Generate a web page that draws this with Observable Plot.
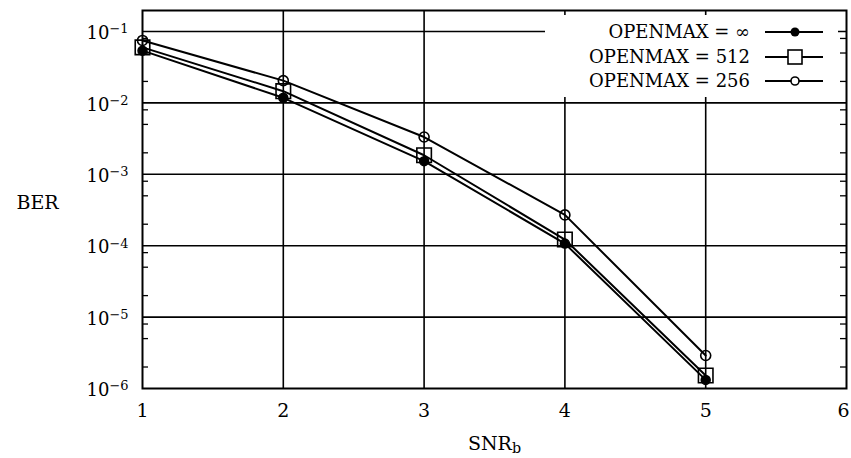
<!DOCTYPE html>
<html><head><meta charset="utf-8">
<script src="https://cdn.jsdelivr.net/npm/d3@7"></script>
<script src="https://cdn.jsdelivr.net/npm/@observablehq/plot@0.6"></script>
<style>
body{margin:0;background:#fff}
#wrap{position:relative;width:851px;height:458px}
svg text{font-family:"DejaVu Serif",serif}
</style>
</head><body><div id="wrap"></div>
<script>
// ---- data ----
const snr = [1, 2, 3, 4, 5];
const berInf = [0.054, 0.0118, 0.00153, 0.000107, 1.32e-6];
const ber512 = [0.060, 0.0146, 0.00185, 0.000122, 1.52e-6];
const ber256 = [0.075, 0.0205, 0.00333, 0.00027, 2.9e-6];
const seriesNames = ["OPENMAX = ∞", "OPENMAX = 512", "OPENMAX = 256"];
const xTicks = [1, 2, 3, 4, 5, 6];
const yMajor = [1e-6, 1e-5, 1e-4, 1e-3, 1e-2, 1e-1];
const yMinorMantissas = [2, 5, 8];
const xLabel = "SNR", xLabelSub = "b", yLabel = "BER";

// ---- derived ----
const yTop = 0.197;
const yMinor = [];
for (const m of yMajor) for (const k of yMinorMantissas) { const v = m * k; if (v < yTop) yMinor.push(v); }
const rows = arr => snr.map((x, i) => ({x, y: arr[i]}));

const plot = Plot.plot({
  width: 851, height: 458,
  marginLeft: 142, marginRight: 5, marginTop: 10, marginBottom: 70,
  style: {fontFamily: "DejaVu Serif", fontSize: "18px", color: "black", background: "white"},
  x: {domain: [1, 6]},
  y: {type: "log", domain: [1e-6, yTop]},
  marks: [
    Plot.ruleY(yMajor.slice(1), {stroke: "black", strokeWidth: 1.6}),
    Plot.ruleX(xTicks.slice(1, -1), {stroke: "black", strokeWidth: 1.6}),
    Plot.tickY(yMinor, {stroke: "black", strokeWidth: 1.3, insetRight: 698}),
    Plot.tickY(yMinor, {stroke: "black", strokeWidth: 1.3, insetLeft: 698}),
    Plot.axisX({ticks: xTicks, tickSize: 0, tickPadding: 15, tickFormat: d => String(d), label: null, fontSize: 19}),
    Plot.axisY({ticks: yMajor, tickSize: 0, tickPadding: 14, tickFormat: d => "10|" + Math.round(Math.log10(d)), label: null, fontSize: 18, dy: 2}),
    Plot.line(rows(berInf), {x: "x", y: "y", stroke: "black", strokeWidth: 2}),
    Plot.line(rows(ber512), {x: "x", y: "y", stroke: "black", strokeWidth: 2}),
    Plot.line(rows(ber256), {x: "x", y: "y", stroke: "black", strokeWidth: 2}),
    Plot.dot(rows(berInf), {x: "x", y: "y", r: 4.5, fill: "black", stroke: "black", symbol: "circle"}),
    Plot.dot(rows(ber512), {x: "x", y: "y", r: 8.2, fill: "none", stroke: "black", strokeWidth: 1.6, symbol: "square"}),
    Plot.dot(rows(ber256), {x: "x", y: "y", r: 5, fill: "none", stroke: "black", strokeWidth: 1.6, symbol: "circle"}),
    Plot.frame({stroke: "black", strokeWidth: 2}),
    Plot.text([yLabel], {frameAnchor: "left", dx: -105, dy: 3, textAnchor: "middle", fontSize: 19}),
    Plot.text([xLabel + "_" + xLabelSub], {frameAnchor: "bottom", lineAnchor: "middle", dy: 55, fontSize: 19})
  ]
});

// superscripts / subscripts as real text
d3.select(plot).selectAll("text").each(function() {
  const t = this.textContent;
  if (t.includes("|")) {
    const [base, exp] = t.split("|");
    const sel = d3.select(this); sel.text(null);
    sel.append("tspan").text(base);
    sel.append("tspan").attr("dy", "-0.45em").attr("font-size", "0.72em").text(exp.replace("-", "\u2212"));
  } else if (t.includes("_")) {
    const [base, sub] = t.split("_");
    const sel = d3.select(this); sel.text(null);
    sel.append("tspan").text(base);
    sel.append("tspan").attr("dy", "0.25em").attr("font-size", "0.75em").text(sub);
  } else if (t === String(xTicks[xTicks.length - 1])) {
    d3.select(this).attr("dx", -3);
  }
});

const wrap = document.getElementById("wrap");
wrap.appendChild(plot);

// legend overlay
const lg = d3.create("svg").attr("width", 293).attr("height", 82)
  .style("position", "absolute").style("left", "545px").style("top", "15px").style("background", "white");
const rowY = [17, 42, 66];
seriesNames.forEach((name, i) => {
  const g = lg.append("g").attr("transform", `translate(0,${rowY[i]})`);
  g.append("text").attr("x", 205).attr("text-anchor", "end").attr("dy", "0.35em")
    .attr("font-size", 18).attr("font-family", "DejaVu Serif").text(name);
  g.append("line").attr("x1", 220).attr("x2", 278).attr("stroke", "black").attr("stroke-width", 2);
  if (i === 0) g.append("circle").attr("cx", 250).attr("r", 4.5).attr("fill", "black");
  if (i === 1) g.append("rect").attr("x", 243).attr("y", -7).attr("width", 14).attr("height", 14).attr("fill", "white").attr("stroke", "black").attr("stroke-width", 1.6);
  if (i === 2) g.append("circle").attr("cx", 250).attr("r", 4).attr("fill", "white").attr("stroke", "black").attr("stroke-width", 1.6);
});
wrap.appendChild(lg.node());
</script>
</body></html>
